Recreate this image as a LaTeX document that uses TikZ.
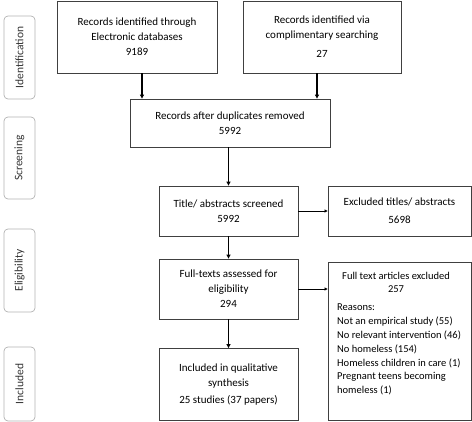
\documentclass[tikz,border=0pt]{standalone}
\usepackage{fontspec}
\setmainfont{Carlito}
\usetikzlibrary{arrows.meta}

\tikzset{
  box/.style={draw=black!75, line width=0.8pt, align=center, inner sep=2pt,
    font=\fontsize{11}{15}\selectfont},
  side/.style={draw=black!30, line width=0.7pt, rounded corners=4pt, rotate=90,
    minimum height=31pt, text=black!80, font=\fontsize{11.5}{13}\selectfont},
  arr/.style={-{Triangle[length=4pt,width=4pt]}, line width=1.2pt},
  harr/.style={-{Triangle[length=3pt,width=3pt]}, line width=0.7pt}
}

\begin{document}
\begin{tikzpicture}[x=1pt,y=-1pt]
  \useasboundingbox (0,0) rectangle (472,422);

  % stage labels
  \node[side, minimum width=83pt] (s1) at (19.5,57.5) {Identification};
  \node[side, minimum width=82pt] (s2) at (19.5,158) {Screening};
  \node[side, minimum width=83pt] (s3) at (19.5,270.5) {Eligibility};
  \node[side, minimum width=74pt] (s4) at (19.5,384) {Included};

  % boxes
  \node[box, minimum width=160pt, minimum height=72pt] (b1) at (137,37)
    {Records identified through\\Electronic databases\\9189};
  \node[box, minimum width=158pt, minimum height=72pt] (b2) at (322,37)
    {Records identified via\\complimentary searching\\[4pt]27};
  \node[box, minimum width=200pt, minimum height=48pt] (b3) at (230,123)
    {Records after duplicates removed\\5992};
  \node[box, minimum width=139pt, minimum height=50pt] (b4) at (228.5,211)
    {Title/ abstracts screened\\5992};
  \node[box, minimum width=143pt, minimum height=50pt] (b5) at (399.5,211)
    {Excluded titles/ abstracts\\[3pt]5698};
  \node[box, minimum width=139pt, minimum height=60pt] (b6) at (228.5,289)
    {Full-texts assessed for\\eligibility\\294};
  \node[box, minimum width=143pt, minimum height=158pt] (b7) at (399.5,341.5) {};
  \node[box, minimum width=139pt, minimum height=72pt] (b8) at (228.5,384.5)
    {Included in qualitative\\synthesis\\[2pt]25 studies (37 papers)};

  % text of the exclusion box
  \node[align=center, font=\fontsize{10.5}{13}\selectfont, anchor=north]
    (h7) at (396,269) {Full text articles excluded\\257};
  \node[align=left, font=\fontsize{10.5}{13.8}\selectfont, anchor=north west, inner sep=0pt]
    (r7) at (337,304) {Reasons:\\Not an empirical study (55)\\No relevant intervention (46)\\%
    No homeless (154)\\Homeless children in care (1)\\Pregnant teens becoming\\homeless (1)};

  % arrows
  \draw[arr] ([xshift=5pt]b1.south) -- ([xshift=5pt]b1.south |- b3.north);
  \draw[arr] ([xshift=-5pt]b2.south) -- ([xshift=-5pt]b2.south |- b3.north);
  \draw[arr] (b4.north |- b3.south) -- (b4.north);
  \draw[arr] (b4.south) -- (b6.north);
  \draw[arr] (b6.south) -- (b8.north);
  \draw[harr] (b4.east) -- (b4.east -| b5.west);
  \draw[harr] (b6.east) -- (b6.east -| b7.west);
\end{tikzpicture}
\end{document}
